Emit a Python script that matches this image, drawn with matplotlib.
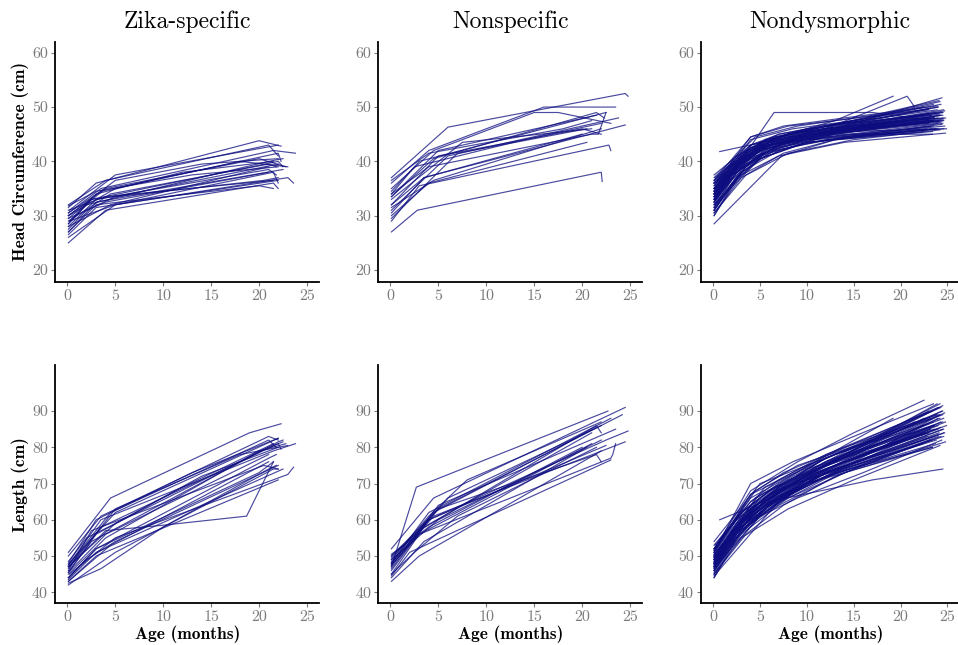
import matplotlib
matplotlib.use("Agg")
import matplotlib.pyplot as plt

plt.rcParams['axes.unicode_minus'] = False

# ---------------- data ----------------
col_titles = ["Zika-specific", "Nonspecific", "Nondysmorphic"]
row_labels = ["Head Circumference (cm)", "Length (cm)"]
x_label = "Age (months)"
x_ticks = [0, 5, 10, 15, 20, 25]
hc_ticks = [20, 30, 40, 50, 60]
len_ticks = [40, 50, 60, 70, 80, 90]

# Zika-specific head circumference
zika_hc_ages = [
    [0.1, 3, 20, 22.3], [0.1, 4, 21, 22], [0.2, 5, 22], [0.1, 3.5, 21.5, 23.8],
    [0.1, 5, 14, 22], [0.2, 3, 12, 21.5], [0.1, 2.5, 22, 22.5], [0.1, 4, 20, 22.8],
    [0.1, 3, 21, 21.8], [0.1, 2, 5, 22], [0.1, 4.5, 21], [0.1, 3, 22.5],
    [0.1, 5, 21.5, 22], [0.1, 4, 21.5, 22], [0.1, 3, 20, 21.5], [0.2, 5, 23, 23.6],
    [0.1, 2.5, 20.5, 22], [0.1, 4, 21.5], [0.1, 3, 13, 22], [0.1, 4.5, 21, 21.8],
    [0.1, 2, 21, 22.5], [0.1, 5, 18, 23], [0.1, 3, 22], [0.1, 4, 21],
    [0.1, 3.5, 22, 22.3],
]
zika_hc_vals = [
    [31.5, 36, 43.8, 42.8], [32, 36.5, 43, 41], [31, 37.5, 43], [30.5, 35, 42, 41.5],
    [30, 36.5, 39.5, 40.5], [29, 34, 38, 40], [28.5, 33, 40, 39], [29.5, 35, 40.5, 39],
    [28, 33, 38.5, 37.5], [27.5, 31, 33.5, 39.5], [28, 32, 39], [27, 32.5, 38.5],
    [26, 32, 38, 36], [25, 31, 36, 35], [27, 32, 35.5, 35], [29, 32, 37, 36],
    [30, 33, 36.5, 37], [31, 33.5, 36.5], [31.8, 34.5, 37.5, 39], [29, 34, 39.5, 39],
    [28.5, 32, 40, 40.5], [30, 35, 40, 39], [26.5, 31.5, 36.5], [29.5, 32.5, 38],
    [30.5, 34.5, 41.5, 40],
]

# Zika-specific length
zika_len_ages = [
    [0.1, 4.5, 19, 22.3], [0.1, 3.5, 21, 22], [0.2, 5, 22], [0.1, 3.5, 21.5, 23.8],
    [0.1, 5, 14, 22], [0.2, 3, 12, 21.5], [0.1, 2.5, 22, 22.5], [0.1, 4, 20, 22.8],
    [0.1, 3, 21, 21.8], [0.1, 2, 5, 22], [0.1, 4.5, 21], [0.1, 3, 22.5],
    [0.1, 5, 21.5, 22], [0.1, 3.5, 10, 21, 21.8], [0.1, 3, 20, 21.5], [0.2, 5, 23, 23.6],
    [0.1, 2.5, 20.5, 22], [0.1, 4, 10, 18.7, 21.5], [0.1, 3, 13, 22], [0.1, 4.5, 21, 21.8],
    [0.1, 2, 21, 22.5], [0.1, 5, 18, 23], [0.1, 3, 22], [0.1, 4, 21],
    [0.1, 3.5, 22, 22.3],
]
zika_len_vals = [
    [51, 66, 84, 86.5], [50, 61, 83, 82], [48, 62, 82.5], [47.5, 60, 79, 81],
    [47, 59, 72, 80], [46, 56, 69, 81], [45.5, 54, 81.5, 82], [45, 55, 79, 81],
    [44, 52, 77, 78], [44, 49, 54, 75], [43, 53, 76], [43.5, 51, 74],
    [42, 51, 74, 74], [42.5, 46.5, 58, 74, 75], [44, 52, 73, 76], [45, 55, 72.5, 74.5],
    [46, 57, 75, 74], [47, 57, 58.5, 61, 76], [48, 60, 73, 82.5], [47.5, 62, 82, 80],
    [48.5, 55, 80, 81.5], [46.5, 63, 78, 80.5], [43, 50, 71], [45.5, 56, 78],
    [47, 58, 81, 79.5],
]

# Nonspecific head circumference
nons_hc_ages = [
    [0.1, 2.8, 22, 22.1], [0.1, 6, 24.5, 24.8], [0.1, 4, 16, 23.5], [0.1, 4.5, 15, 17.5, 23],
    [0.1, 3, 22.5], [0.1, 4.5, 21.5, 22.3], [0.1, 5, 20, 22], [0.1, 4, 21, 21.7, 22.5],
    [0.1, 3.5, 24.5], [0.1, 6, 23.8], [0.1, 4, 20.5], [0.1, 3, 22.8, 23],
    [0.1, 7, 20.5], [0.1, 4.5, 22], [0.1, 7.5, 21], [0.1, 3.5, 20],
    [0.1, 2.5, 14, 22], [0.1, 5, 21.5], [0.1, 4, 18, 21],
]
nons_hc_vals = [
    [27, 31, 38, 36.3], [37, 46.3, 52.5, 52], [36, 42, 50, 50], [35, 42, 49, 49, 47],
    [34, 40, 49], [33.5, 40.5, 49, 48], [32, 41, 46, 45], [34, 39, 45, 45, 49],
    [32, 37, 46.7], [31, 41, 48], [30, 36, 43.5], [29, 35.5, 43, 42],
    [29.5, 41.5, 46], [31.5, 36.5, 46], [33, 43.5, 46], [30.5, 37, 45],
    [34.5, 39, 44, 47], [33.5, 42, 48.5], [36.5, 41.5, 46, 47.5],
]

# Nonspecific length
nons_len_ages = [
    [0.1, 2.7, 22.7], [0.1, 4.5, 24.5], [0.1, 5, 24.2], [0.1, 4, 8, 22],
    [0.1, 4, 23], [0.1, 3, 21.5, 22], [0.1, 4.5, 21.5], [0.1, 5, 23.5],
    [0.1, 3.5, 21], [0.1, 4, 22.5, 24.8], [0.1, 4.5, 24.5], [0.1, 3, 23, 23.2, 23.5],
    [0.1, 5, 21.5, 22], [0.1, 3.5, 20.5], [0.1, 3, 22], [0.1, 2.5, 7, 21.5],
    [0.1, 4, 22.5], [0.1, 5, 22], [0.1, 4, 20], [0.1, 3, 21],
    [0.1, 6, 22], [0.1, 2, 23],
]
nons_len_vals = [
    [47, 69, 90], [52, 66, 91], [50, 63, 89], [49, 61, 71, 87],
    [48, 62, 88], [50, 57, 86, 84], [48.5, 62, 85.5], [47, 64, 85],
    [46, 58, 84], [49.5, 60, 82, 84.5], [47.5, 61, 81.5], [45, 56, 77, 78, 81],
    [48, 63, 78, 76], [44, 54, 80], [43, 50, 79], [45, 51, 61, 80],
    [46.5, 60, 80.5], [49, 60, 82], [50.5, 58, 80], [47.5, 56, 81],
    [48, 66, 86], [44.5, 51, 76.5],
]

# Nondysmorphic (same visit ages for head circumference and length)
nd_ages = [
    [0.1, 3, 6, 12, 23.5], [0.2, 2.5, 5.5, 11, 24], [0.1, 3.5, 7, 13, 22.5], [0.1, 2, 6, 12, 24.5],
    [0.3, 4, 8, 14, 23], [0.1, 3, 6.5, 12.5, 24], [0.1, 2.5, 5, 10, 23.8], [0.2, 3, 7, 12, 24.5],
    [0.1, 4, 7.5, 13, 23.2], [0.1, 2, 5, 11, 24.2], [0.2, 3.5, 6, 12, 22.8], [0.1, 3, 7, 13, 24.6],
    [0.1, 2.5, 4.5, 10, 23.5], [0.1, 4, 7, 11.5, 24], [0.2, 3, 6, 12, 23.6], [0.1, 1.5, 5, 12, 24.3],
    [0.1, 3, 6, 10, 23], [0.2, 2.5, 7, 14, 24.8], [0.1, 3.5, 7.5, 13, 23.2], [0.1, 4, 6.5, 12, 24.5],
    [0.1, 2, 6, 11, 23.5], [0.1, 3, 5.5, 12, 24.1], [0.2, 4.5, 8, 13, 22.6], [0.1, 3, 7, 12, 24.7],
    [0.1, 7.3, 14, 24.6], [0.1, 4.5, 6.5, 17, 23.5], [0.7, 12, 24], [0.1, 4, 13, 19.2],
    [0.1, 5, 12, 20.7, 21.5], [0.1, 3, 6, 12, 24.2], [0.1, 3, 6, 12, 24.4], [0.1, 2.5, 6, 13, 23.4],
    [0.1, 4, 8, 14, 24.9], [0.1, 3, 6, 12, 23.9], [0.1, 2, 5, 10, 23.4], [0.1, 4, 9, 15, 24.5],
    [0.1, 3, 7, 11, 22.8], [0.1, 3.5, 6, 17, 24.5], [0.1, 4, 9, 15, 22.5], [0.1, 4, 8.5, 15, 23.5],
    [0.1, 2.5, 5.5, 12, 23.7], [0.1, 3, 6, 11, 24.3], [0.1, 2, 5, 11, 24], [0.1, 3.5, 7, 13, 23.8],
    [0.1, 2.5, 6, 12, 24.1], [0.1, 3, 6.5, 12.5, 24.6], [0.1, 4, 7, 12, 23.3], [0.1, 2, 5, 10, 22.4],
    [0.1, 3, 6, 12, 24], [0.1, 4.5, 8, 14, 24.5], [0.1, 1, 3, 6, 12, 23], [0.1, 2, 4, 9, 18, 24.2],
    [0.1, 3, 5, 10, 16, 23.6], [0.1, 2.5, 7, 12, 24.3], [0.1, 3.5, 6, 10, 23.3],
    [0.1, 5, 9, 16, 24.4], [0.1, 4, 7.5, 14, 23.9], [0.1, 3, 8, 15, 24.2], [0.1, 5.5, 10, 18, 23.2],
    [0.1, 2.5, 6.5, 13, 24.6], [0.1, 4, 8, 13, 22.9], [0.1, 3, 7, 14, 24.8], [0.1, 4.5, 9, 17, 24.1],
    [0.1, 6, 11, 18, 23.6], [0.1, 3.5, 8, 15, 24.3], [0.1, 2, 6, 12, 23.1], [0.1, 5, 8, 16, 24.7],
]
nd_hc_vals = [
    [34, 40, 43, 45.5, 48], [33, 39, 42.5, 45, 47.5], [35, 41, 44, 46, 48.5], [32, 37.5, 42, 44.5, 47],
    [36, 42, 45, 47, 49.5], [31, 38, 42, 44, 46], [30, 36.5, 40.5, 43.5, 46], [35.5, 41, 44.5, 46.5, 49],
    [33.5, 40.5, 43.5, 45.5, 47.5], [34.5, 39, 42.5, 45, 48.5], [37, 42, 44, 46, 48], [32.5, 39, 43, 45, 47.5],
    [31.5, 37, 41, 44, 46.5], [36.5, 42.5, 45, 46.5, 50], [34, 40, 43.5, 46, 48], [33, 37, 42, 45, 48.5],
    [35, 40.5, 43, 45, 47], [32, 38, 43, 45.5, 48], [30.5, 37.5, 41.5, 44, 46.5], [36, 42.5, 44.5, 46, 48.5],
    [33.5, 38.5, 43, 45, 47.5], [34.5, 40.5, 43, 45.5, 48.7], [35, 42, 44.5, 46, 47.5], [31, 38.5, 42.5, 44.5, 46.5],
    [28.5, 41, 44.5, 46], [33, 44, 49, 49, 47.5], [41.8, 46, 50], [34, 43, 47.5, 52],
    [35, 43, 46, 52, 50], [36, 41.5, 44, 46.5, 51], [33.5, 40, 43, 45.5, 51.7], [32.5, 39, 43, 45, 45],
    [34.5, 41.5, 44, 45.5, 46], [35.5, 41, 44, 46.5, 49.5], [31, 36, 40.5, 43.5, 45.5], [33, 41, 44.5, 46.5, 48],
    [32, 38, 42, 44, 46], [34, 41, 43.5, 46, 47.5], [36.5, 43, 45.5, 47.5, 50], [35, 44, 46, 47.5, 50.5],
    [30, 37, 41.5, 44, 46], [34.5, 40.5, 43.5, 45.5, 47.5], [33, 38, 42, 45, 48], [36, 41.5, 44.5, 46.5, 49],
    [31.5, 38, 42.5, 45, 47.5], [34, 40.5, 44, 46, 49.5], [37.5, 43, 45, 46.5, 48.5], [32.5, 37.5, 41, 43.5, 45.5],
    [33.5, 40, 43, 45, 47], [35, 42.5, 45, 46.5, 49], [34, 37, 40, 43, 45.5, 47.5], [35, 39, 42, 44.5, 47, 49],
    [33, 39.5, 42, 44.5, 46.5, 48], [36, 41, 44.5, 46.5, 50.5], [31, 39, 42, 44, 46],
    [32, 40.5, 43, 45, 46.8], [36.5, 44.5, 46.5, 48, 50.2], [30.5, 37, 41.5, 44, 45.8], [34, 44, 46, 48, 49.8],
    [33, 38.5, 42.5, 45, 47.8], [35.5, 44.5, 46.5, 47.5, 49.6], [31.5, 37.5, 41, 43.5, 45.2], [37, 44.5, 46.5, 48.5, 51.2],
    [33.5, 43, 45, 47, 48.2], [32.5, 40, 43.5, 46, 47.2], [34.5, 39.5, 43.5, 45.5, 48.8], [36, 43.5, 45, 47, 49.3],
]
nd_len_vals = [
    [49, 60, 66, 75, 87], [48, 58, 65, 73, 86], [50, 61, 68, 76, 88], [47, 56, 64, 73, 85],
    [51, 63, 70, 78, 90], [46, 57, 64, 72, 83], [45, 55, 62, 71, 82], [52, 62, 69, 77, 89],
    [48.5, 61, 67, 75, 85], [49.5, 57, 64, 74, 88], [53, 63, 68, 76, 88], [47.5, 59, 66, 74, 85],
    [46, 56, 62, 71, 83], [51.5, 64, 70, 77, 91], [50, 60, 67, 76, 86], [48, 53.5, 63, 73, 87],
    [49.5, 61, 67, 74, 84], [47, 57, 66, 76, 87], [45, 56, 64, 72, 82], [52, 65, 69, 77, 90],
    [49, 56, 65, 73, 86], [50.5, 60, 66, 75, 89], [50, 63, 69, 75, 84], [46.5, 58, 65, 73, 84],
    [44.5, 66, 74, 83], [48, 66, 69, 80, 86], [60, 72, 88], [52, 66, 79, 88],
    [54, 70, 77, 86, 87], [51, 62, 68, 76, 92], [48.5, 59, 66, 75, 90], [47, 57, 65, 73, 80],
    [49, 62, 69, 76, 86], [50, 60, 67, 75, 92], [44, 52, 61, 70, 80], [48, 63, 71, 79, 91.5],
    [47, 57, 65, 72, 83], [49, 61, 65, 71, 74], [52, 68, 76, 84, 93], [51, 70, 76, 83, 92],
    [45.5, 56, 63, 72, 81], [48, 59, 66, 74, 85.5], [46.5, 55, 63, 73, 85], [51, 62, 69, 77, 89],
    [44, 55, 64, 73, 84], [49, 60, 67, 76, 88], [53, 65, 71, 78, 90], [47, 54, 61, 70, 81],
    [48, 59, 65, 73, 83.5], [50, 64, 70, 78, 87], [48, 52, 59, 66, 74, 84], [50, 56, 62, 70, 80, 89],
    [47.5, 58, 63, 71, 79, 86], [52, 60, 69, 77, 91], [46, 58, 64, 71, 82],
    [47, 61, 66, 73, 82], [51, 67, 73, 80, 89], [45, 55, 63, 71, 80.5], [50, 69, 75, 83, 88],
    [48, 56, 65, 73, 84], [51.5, 67, 72, 78, 86.5], [46, 56, 64, 73, 81.5], [52, 68, 75, 82, 91],
    [49, 67, 73, 80, 85], [47.5, 58, 66, 74, 83], [49.5, 56, 64, 72, 85], [50.5, 66, 71, 79, 89.5],
]

# ---------------- plotting ----------------
line_color = "#0d0d80"
tick_color = "#7a7a7a"

fig = plt.figure(figsize=(9.58, 6.45), dpi=100)
lefts = [0.0574, 0.3946, 0.7317]
widths = [0.276, 0.276, 0.270]
bottoms = [0.563, 0.065]
heights = [0.372, 0.369]

panels = [
    [(zika_hc_ages, zika_hc_vals), (nons_hc_ages, nons_hc_vals), (nd_ages, nd_hc_vals)],
    [(zika_len_ages, zika_len_vals), (nons_len_ages, nons_len_vals), (nd_ages, nd_len_vals)],
]
ylims = [(17.8, 62), (37, 102.7)]
yticks = [hc_ticks, len_ticks]

for r in range(2):
    for c in range(3):
        ax = fig.add_axes([lefts[c], bottoms[r], widths[c], heights[r]])
        ages_list, vals_list = panels[r][c]
        for a, v in zip(ages_list, vals_list):
            ax.plot(a, v, color=line_color, lw=0.85, alpha=0.75, solid_joinstyle='miter')
        ax.set_xlim(-1.3, 26.3)
        ax.set_ylim(*ylims[r])
        ax.set_xticks(x_ticks)
        ax.set_yticks(yticks[r])
        for s in ["top", "right"]:
            ax.spines[s].set_visible(False)
        for s in ["left", "bottom"]:
            ax.spines[s].set_linewidth(1.3)
            ax.spines[s].set_color("black")
        ax.tick_params(axis="both", colors=tick_color, length=3, width=0.8,
                       labelsize=11.5, pad=2)
        for lab in ax.get_xticklabels() + ax.get_yticklabels():
            lab.set_fontfamily("cmr10")
            lab.set_color(tick_color)
        if r == 0:
            ax.set_title(col_titles[c], fontfamily="cmr10", fontsize=17, pad=10)
        if r == 1:
            ax.set_xlabel(x_label, fontfamily="cmb10", fontsize=12.5, labelpad=1)
        if c == 0:
            ax.set_ylabel(row_labels[r], fontfamily="cmb10", fontsize=12.5, labelpad=2)

fig.savefig("out.png", dpi=100)
